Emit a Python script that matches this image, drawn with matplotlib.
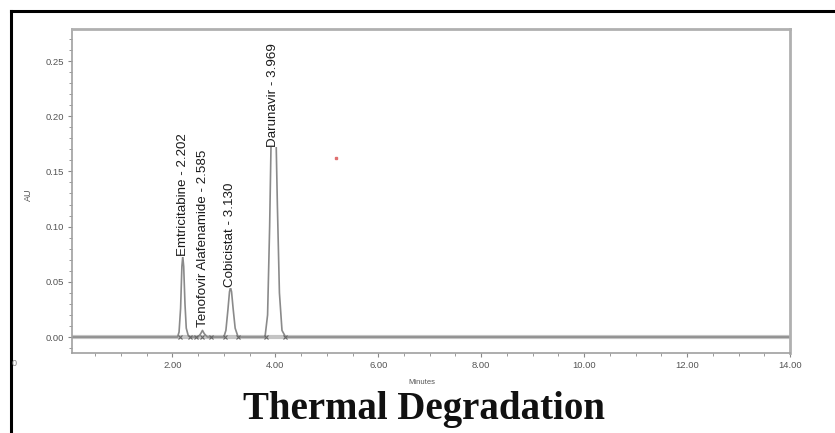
import matplotlib
matplotlib.use("Agg")
import matplotlib.pyplot as plt
from matplotlib.lines import Line2D
from matplotlib.ticker import MultipleLocator, FormatStrFormatter

# ---- data ----
times = [0.05, 2.10, 2.13, 2.16, 2.185, 2.202, 2.22, 2.245, 2.27, 2.31, 2.35,
         2.50, 2.55, 2.585, 2.62, 2.68,
         3.00, 3.04, 3.08, 3.11, 3.13, 3.15, 3.18, 3.22, 3.27, 3.30,
         3.80, 3.85, 3.89, 3.93, 3.969, 4.00, 4.04, 4.08, 4.13, 4.20, 14.0]
au = [0.0, 0.0, 0.0045, 0.026, 0.064, 0.073, 0.064, 0.030, 0.008, 0.001, 0.0,
      0.0, 0.003, 0.006, 0.003, 0.0,
      0.0, 0.006, 0.025, 0.041, 0.045, 0.041, 0.026, 0.008, 0.001, 0.0,
      0.0, 0.020, 0.100, 0.210, 0.265, 0.215, 0.120, 0.040, 0.006, 0.0, 0.0]

peak_names = ["Emtricitabine", "Tenofovir Alafenamide", "Cobicistat", "Darunavir"]
peak_rt = [2.202, 2.585, 3.130, 3.969]
label_x = [2.20, 2.59, 3.12, 3.95]
label_y = [0.073, 0.009, 0.045, 0.172]

marker_times = [2.14, 2.34, 2.45, 2.57, 2.76, 3.02, 3.28, 3.81, 4.18]

x_ticks = [2, 4, 6, 8, 10, 12, 14]
y_ticks = [0.00, 0.05, 0.10, 0.15, 0.20, 0.25]

W, H = 835, 433
fig = plt.figure(figsize=(W / 100, H / 100), dpi=100)
fig.patch.set_facecolor("white")

ax = fig.add_axes([72 / W, 1 - 352.7 / H, (790 - 72) / W, (352.7 - 29) / H])
ax.set_xlim(0.05, 14.0)
ax.set_ylim(-0.0142, 0.279)

# baseline band
ax.axhline(0, color="#c4c4c4", lw=3.0, zorder=1)
ax.plot(times, au, color="#8a8a8a", lw=1.2, zorder=2)
ax.plot(marker_times, [0.0] * len(marker_times), ls="none", marker="x",
        ms=3, mew=0.8, color="#666666", zorder=3)

for name, rt, lx, ly in zip(peak_names, peak_rt, label_x, label_y):
    ax.text(lx, ly, f"{name} - {rt:.3f}", rotation=90, ha="center", va="bottom",
            fontsize=9.6, family="Liberation Sans", color="#1a1a1a", zorder=5,
            bbox=dict(facecolor="white", edgecolor="none", pad=0.2))

ax.set_xticks(x_ticks)
ax.xaxis.set_major_formatter(FormatStrFormatter("%.2f"))
ax.xaxis.set_minor_locator(MultipleLocator(0.5))
ax.set_yticks(y_ticks)
ax.yaxis.set_major_formatter(FormatStrFormatter("%.2f"))
ax.yaxis.set_minor_locator(MultipleLocator(0.01))
ax.tick_params(axis="both", which="major", length=3, width=0.8, color="#888888",
               labelsize=6.8, labelcolor="#555555", pad=3)
ax.tick_params(axis="both", which="minor", length=2, width=0.7, color="#999999")
for lab in ax.get_xticklabels() + ax.get_yticklabels():
    lab.set_family("Liberation Sans")

for side in ["top", "right"]:
    ax.spines[side].set_color("#b0b0b0")
    ax.spines[side].set_linewidth(2.0)
for side in ["left", "bottom"]:
    ax.spines[side].set_color("#a0a0a0")
    ax.spines[side].set_linewidth(1.2)

fig.text(28 / W, 1 - 195 / H, "AU", rotation=90, ha="center", va="center",
         fontsize=6.5, color="#555555", family="Liberation Sans")
fig.text(422 / W, 1 - 382 / H, "Minutes", ha="center", va="center",
         fontsize=5.5, color="#555555", family="Liberation Sans")
fig.text(14 / W, 1 - 363 / H, "0", ha="center", va="center",
         fontsize=6.5, color="#888888", family="Liberation Sans")
fig.text(424 / W, 1 - 410 / H, "Thermal Degradation", ha="center", va="center",
         fontsize=28, fontweight="bold", family="Liberation Serif", color="#111111")

# frame lines and stray red dot
fig.add_artist(Line2D([11 / W, 1.0], [1 - 11 / H, 1 - 11 / H], color="black", lw=2.2,
                      transform=fig.transFigure))
fig.add_artist(Line2D([11 / W, 11 / W], [0.0, 1 - 11 / H], color="black", lw=2.2,
                      transform=fig.transFigure))
fig.add_artist(Line2D([336 / W], [1 - 158 / H], marker="s", ms=2, color="#e07070",
                      ls="none", transform=fig.transFigure))

fig.savefig("out.png", dpi=100)
